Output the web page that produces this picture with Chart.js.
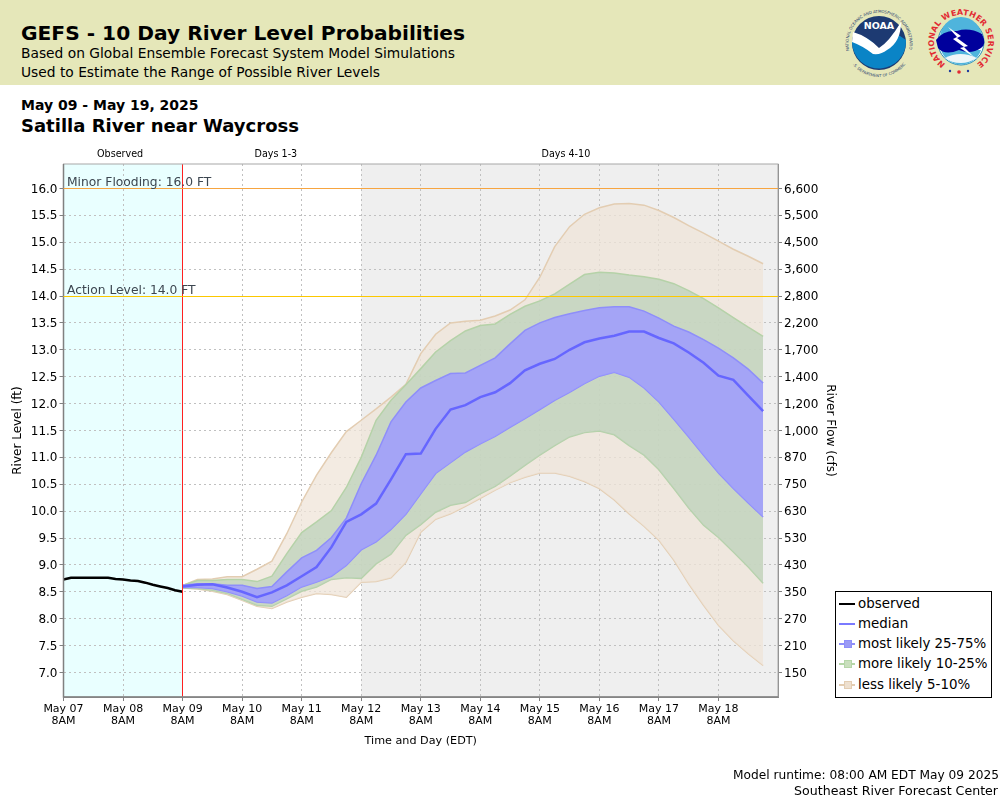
<!DOCTYPE html>
<html>
<head>
<meta charset="utf-8">
<title>GEFS River Level Probabilities</title>
<script src="https://cdn.jsdelivr.net/npm/chart.js@4/dist/chart.umd.min.js"></script>
<style>
  body { margin: 0; background: #fff; font-family: "DejaVu Sans", sans-serif; color: #000; }
  #page { position: relative; width: 1000px; height: 800px; overflow: hidden; }
  #band { position: absolute; left: 0; top: 0; width: 1000px; height: 85px; background: #e5e7b9; }
  #myChart { position: absolute; left: 0; top: 0; }
  .txt { position: absolute; white-space: nowrap; line-height: 1; }
  #logos { position: absolute; left: 835px; top: 0; }
  #legend { position: absolute; left: 835px; top: 591px; width: 155px; height: 105px; border: 1px solid #000; background: #fff; box-sizing: content-box; }
  .row { position: absolute; left: 22px; font-size: 13.4px; line-height: 1; white-space: nowrap; }
  .sym { position: absolute; left: 3px; width: 16px; height: 2px; }
  .box { position: absolute; left: 8px; width: 6px; height: 6px; border: 1px solid; }
</style>
</head>
<body>
<div id="page">
  <div id="band"></div>
  <div class="txt" style="left:21px;top:23px;font-size:20.2px;font-weight:bold">GEFS - 10 Day River Level Probabilities</div>
  <div class="txt" style="left:21px;top:47px;font-size:13.8px">Based on Global Ensemble Forecast System Model Simulations</div>
  <div class="txt" style="left:21px;top:66px;font-size:13.8px">Used to Estimate the Range of Possible River Levels</div>
  <div class="txt" style="left:21px;top:98px;font-size:14px;font-weight:bold">May 09 - May 19, 2025</div>
  <div class="txt" style="left:21px;top:117px;font-size:18px;font-weight:bold">Satilla River near Waycross</div>

  <svg id="logos" width="165" height="85" viewBox="0 0 165 85">
    <defs>
      <path id="noaaTop" d="M 14.4 50.6 A 30.5 30.5 0 1 1 73.6 50.6"/>
      <path id="noaaBot" d="M 16.8 63.4 A 34 34 0 0 0 71.2 63.4"/>
      <path id="nwsRing" d="M 110.5 64.1 A 27 27 0 1 1 141.5 64.1"/>
    </defs>
    <!-- NOAA -->
    <circle cx="44" cy="43" r="27" fill="#1d3a72"/>
    <path d="M 17 42 Q 30 30 42 48 Q 50 55 62 34 L 71 40 A 27 27 0 0 1 17 43 Z" fill="#0a84c6"/>
    <path d="M 18 32 Q 32 36 44 48 Q 54 42 66 22 Q 66 42 52 50 Q 46 55 38 54 Q 28 46 17 42 Z" fill="#fff"/>
    <text x="44" y="29" text-anchor="middle" font-size="9.5" font-weight="bold" fill="#fff" font-family="DejaVu Sans">NOAA</text>
    <text font-size="4" fill="#2a3f70" font-family="DejaVu Sans"><textPath href="#noaaTop" textLength="112">NATIONAL OCEANIC AND ATMOSPHERIC ADMINISTRATION</textPath></text>
    <text font-size="3.9" fill="#2a3f70" font-family="DejaVu Sans" text-anchor="middle"><textPath href="#noaaBot" startOffset="50%">U.S. DEPARTMENT OF COMMERCE</textPath></text>
    <!-- NWS -->
    <circle cx="126" cy="42" r="23" fill="#fff" stroke="#2a8fb8" stroke-width="1"/>
    <path d="M 105 38 A 21 21 0 0 1 147 38 Z" fill="#4fb4dc"/>
    <path d="M 106 50 A 21 21 0 0 0 146 50 Z" fill="#4fb4dc"/>
    <path d="M 101 40 Q 108 30 122 31 Q 134 27 147 34 Q 152 44 146 48 Q 136 55 124 50 Q 110 56 103 48 Z" fill="#00009c"/>
    <path d="M 110 58 Q 125 50 142 58 Q 134 63 126 63 Q 116 63 110 58 Z" fill="#eef6f8"/>
    <path d="M 113 27 L 126 36 L 122 38 L 133 46 L 129 47 L 139 57 L 125 48 L 129 47 L 118 39 L 122 37 Z" fill="#fff"/>
    <text font-size="8" font-weight="bold" fill="#e22b33" font-family="DejaVu Sans"><textPath href="#nwsRing" textLength="136">NATIONAL WEATHER SERVICE</textPath></text>
    <circle cx="115" cy="71" r="1.2" fill="#1d3a9e"/>
    <circle cx="124" cy="72" r="1.8" fill="#e22b33"/>
    <circle cx="133" cy="71" r="1.2" fill="#1d3a9e"/>
  </svg>

  <canvas id="myChart" width="1000" height="800"></canvas>

  <div id="legend"></div>

  <div class="txt" style="right:1px;top:769px;font-size:12.2px">Model runtime: 08:00 AM EDT May 09 2025</div>
  <div class="txt" style="right:2px;top:785px;font-size:12.6px">Southeast River Forecast Center</div>
</div>

<script>
// --- Data ---
// x values are hours since May 07 8AM
const dayTicks = [0, 24, 48, 72, 96, 120, 144, 168, 192, 216, 240, 264];
const dayLabels = ['May 07', 'May 08', 'May 09', 'May 10', 'May 11', 'May 12', 'May 13', 'May 14', 'May 15', 'May 16', 'May 17', 'May 18'];
const levelTicks = [7, 7.5, 8, 8.5, 9, 9.5, 10, 10.5, 11, 11.5, 12, 12.5, 13, 13.5, 14, 14.5, 15, 15.5, 16];
const flowLabels = ['150', '210', '270', '350', '430', '530', '630', '750', '870', '1,000', '1,200', '1,400', '1,700', '2,200', '2,800', '3,600', '4,500', '5,500', '6,600'];

const observedHours = [0, 3, 6, 9, 12, 15, 18, 21, 24, 27, 30, 33, 36, 39, 42, 45, 48];
const observed = [8.73, 8.76, 8.76, 8.76, 8.76, 8.76, 8.76, 8.74, 8.73, 8.71, 8.70, 8.67, 8.63, 8.60, 8.57, 8.53, 8.50];

const forecastHours = [48, 54, 60, 66, 72, 78, 84, 90, 96, 102, 108, 114, 120, 126, 132, 138, 144, 150, 156, 162,
  168, 174, 180, 186, 192, 198, 204, 210, 216, 222, 228, 234, 240, 246, 252, 258, 264, 270, 276, 282];
const median = [8.60, 8.63, 8.64, 8.58, 8.50, 8.40, 8.49, 8.62, 8.79, 8.96, 9.33, 9.80, 9.94, 10.14, 10.59, 11.06, 11.07, 11.53, 11.89, 11.97,
  12.12, 12.21, 12.38, 12.62, 12.74, 12.83, 13.00, 13.14, 13.21, 13.26, 13.34, 13.34, 13.22, 13.12, 12.95, 12.76, 12.52, 12.44, 12.15, 11.86];
const blueUpper = [8.62, 8.65, 8.65, 8.62, 8.62, 8.56, 8.60, 8.87, 9.13, 9.27, 9.51, 9.87, 10.51, 11.04, 11.66, 12.03, 12.29, 12.43, 12.56, 12.57,
  12.71, 12.85, 13.11, 13.36, 13.50, 13.60, 13.67, 13.73, 13.78, 13.80, 13.80, 13.72, 13.59, 13.44, 13.33, 13.19, 13.03, 12.85, 12.64, 12.38];
const blueLower = [8.58, 8.58, 8.56, 8.50, 8.42, 8.31, 8.29, 8.43, 8.59, 8.68, 8.79, 8.99, 9.28, 9.43, 9.66, 9.94, 10.32, 10.70, 10.90, 11.10,
  11.25, 11.39, 11.56, 11.72, 11.89, 12.06, 12.21, 12.37, 12.51, 12.58, 12.49, 12.29, 12.03, 11.71, 11.38, 11.04, 10.71, 10.42, 10.15, 9.89];
const greenUpper = [8.62, 8.71, 8.71, 8.73, 8.73, 8.69, 8.79, 9.21, 9.60, 9.80, 10.01, 10.44, 11.00, 11.69, 12.06, 12.35, 12.65, 12.96, 13.17, 13.35,
  13.45, 13.48, 13.66, 13.81, 13.91, 14.04, 14.22, 14.40, 14.44, 14.43, 14.39, 14.36, 14.31, 14.23, 14.10, 13.95, 13.78, 13.60, 13.42, 13.25];
const greenLower = [8.57, 8.56, 8.53, 8.47, 8.36, 8.25, 8.23, 8.37, 8.51, 8.59, 8.73, 8.76, 8.75, 9.02, 9.20, 9.55, 9.75, 9.98, 10.11, 10.16,
  10.32, 10.46, 10.65, 10.85, 11.04, 11.22, 11.38, 11.46, 11.49, 11.42, 11.22, 11.04, 10.77, 10.42, 10.06, 9.74, 9.51, 9.24, 8.96, 8.66];
const tanUpper = [8.62, 8.73, 8.74, 8.78, 8.78, 8.92, 9.07, 9.58, 10.17, 10.67, 11.09, 11.48, 11.69, 11.90, 12.12, 12.36, 12.93, 13.29, 13.50, 13.53,
  13.55, 13.63, 13.74, 13.93, 14.35, 14.92, 15.29, 15.52, 15.64, 15.71, 15.72, 15.69, 15.59, 15.46, 15.31, 15.17, 15.02, 14.87, 14.74, 14.60];
const tanLower = [8.57, 8.55, 8.51, 8.45, 8.34, 8.23, 8.19, 8.31, 8.40, 8.47, 8.45, 8.40, 8.68, 8.69, 8.76, 9.05, 9.61, 9.85, 9.95, 10.09,
  10.24, 10.39, 10.53, 10.63, 10.71, 10.71, 10.65, 10.55, 10.42, 10.21, 9.95, 9.72, 9.46, 9.09, 8.65, 8.25, 7.88, 7.59, 7.35, 7.13];

const thresholdLevels = [16, 14];
const thresholdLabels = ['Minor Flooding: 16.0 FT', 'Action Level: 14.0 FT'];
const thresholdColors = ['#f7a540', '#fcc800'];

const periodStart = [0, 48, 120];
const periodEnd = [48, 120, 288];
const periodColors = ['#e9ffff', '#ffffff', '#efefef'];
const periodLabels = ['Observed', 'Days 1-3', 'Days 4-10'];
const periodLabelHours = [22.8, 85.6, 202.5];

const runHour = 48;

const legendLabels = ['observed', 'median', 'most likely 25-75%', 'more likely 10-25%', 'less likely 5-10%'];
const legendLines = ['#000000', '#7a7aff', '#8e8efa', '#b5d6a8', '#e3cdb2'];
const legendBoxes = [null, null, '#9a9af5', '#c9dfbd', '#eee0cf'];

// Turn x and y arrays into points for Chart.js
function toPoints(hours, values) {
  return hours.map((h, i) => ({ x: h, y: values[i] }));
}

// Two edges of a band: the first one fills down to the second one
function bandDatasets(name, upper, lower, edgeColor, fillColor, order) {
  return [
    { label: name, data: toPoints(forecastHours, upper), borderColor: edgeColor, borderWidth: 1.5, backgroundColor: fillColor, fill: '+1', pointRadius: 0, tension: 0, order: order },
    { label: name + ' lower', data: toPoints(forecastHours, lower), borderColor: edgeColor, borderWidth: 1.5, fill: false, pointRadius: 0, tension: 0, order: order }
  ];
}

// Same rounding the grid lines get, so a line sits right on top of its grid line
function alignPixel(p) {
  return Math.round(p - 0.5) + 0.5;
}

// Period backgrounds go under the grid
const periodPlugin = {
  id: 'periods',
  beforeDraw(chart) {
    const { ctx, chartArea, scales } = chart;
    periodStart.forEach((start, i) => {
      const x1 = scales.x.getPixelForValue(start);
      const x2 = scales.x.getPixelForValue(periodEnd[i]);
      ctx.fillStyle = periodColors[i];
      ctx.fillRect(x1, chartArea.top, x2 - x1, chartArea.bottom - chartArea.top);
    });
  }
};

// Threshold lines, the run time line, frame and small labels go on top
const overlayPlugin = {
  id: 'overlay',
  afterDraw(chart) {
    const { ctx, chartArea, scales } = chart;
    ctx.save();
    ctx.setLineDash([]);

    const runX = alignPixel(scales.x.getPixelForValue(runHour));
    ctx.strokeStyle = '#ff2020';
    ctx.lineWidth = 1;
    ctx.beginPath();
    ctx.moveTo(runX, chartArea.top);
    ctx.lineTo(runX, chartArea.bottom);
    ctx.stroke();

    ctx.strokeStyle = '#a8a8a8';
    ctx.strokeRect(chartArea.left, chartArea.top, chartArea.right - chartArea.left, chartArea.bottom - chartArea.top);
    ctx.strokeStyle = '#808080';
    ctx.lineWidth = 1.5;
    ctx.beginPath();
    ctx.moveTo(chartArea.left, chartArea.top);
    ctx.lineTo(chartArea.left, chartArea.bottom);
    ctx.lineTo(chartArea.right, chartArea.bottom);
    ctx.stroke();

    thresholdLevels.forEach((level, i) => {
      const y = alignPixel(scales.y.getPixelForValue(level));
      ctx.strokeStyle = thresholdColors[i];
      ctx.lineWidth = 1;
      ctx.beginPath();
      ctx.moveTo(chartArea.left, y);
      ctx.lineTo(chartArea.right, y);
      ctx.stroke();
      ctx.fillStyle = '#3c4650';
      ctx.font = '12.3px "DejaVu Sans"';
      ctx.textAlign = 'left';
      ctx.textBaseline = 'alphabetic';
      ctx.fillText(thresholdLabels[i], chartArea.left + 3.5, y - 3);
    });

    ctx.fillStyle = '#000';
    ctx.font = '9.6px "DejaVu Sans"';
    ctx.textAlign = 'center';
    periodLabels.forEach((label, i) => {
      ctx.fillText(label, scales.x.getPixelForValue(periodLabelHours[i]), 157);
    });
    ctx.restore();
  }
};

function setupChart() {
  const ctx = document.getElementById('myChart').getContext('2d');
  const tickFont = { family: 'DejaVu Sans', size: 12 };
  const axisColor = '#808080';
  const gridColor = '#c0c0c0';

  new Chart(ctx, {
    type: 'line',
    data: {
      datasets: [
        { label: 'observed', data: toPoints(observedHours, observed), borderColor: '#000000', borderWidth: 2.5, fill: false, pointRadius: 0, tension: 0, order: 0 },
        { label: 'median', data: toPoints(forecastHours, median), borderColor: '#6666ff', borderWidth: 2.5, fill: false, pointRadius: 0, tension: 0, order: 1 },
        ...bandDatasets('most likely 25-75%', blueUpper, blueLower, '#8e8efa', 'rgba(158,155,255,0.85)', 2),
        ...bandDatasets('more likely 10-25%', greenUpper, greenLower, '#b5d2a8', 'rgba(188,210,185,0.75)', 3),
        ...bandDatasets('less likely 5-10%', tanUpper, tanLower, '#e3cdb2', 'rgba(239,228,216,0.75)', 4)
      ]
    },
    options: {
      responsive: false,
      animation: false,
      devicePixelRatio: 1,
      layout: { padding: { left: 0, right: 163, top: 164, bottom: 52 } },
      plugins: { legend: { display: false }, tooltip: { enabled: false } },
      scales: {
        x: {
          type: 'linear',
          min: 0,
          max: 288,
          afterBuildTicks: axis => { axis.ticks = dayTicks.map(v => ({ value: v })); },
          afterFit: axis => { axis.height = 51; },
          grid: { color: gridColor, tickColor: axisColor, tickLength: 4, tickBorderDash: [] },
          border: { color: axisColor, dash: [2, 3] },
          ticks: {
            autoSkip: false,
            maxRotation: 0,
            color: '#000',
            font: { family: 'DejaVu Sans', size: 11, lineHeight: 1.1 },
            padding: 2,
            callback: value => [dayLabels[dayTicks.indexOf(value)], '8AM']
          },
          title: { display: true, text: 'Time and Day (EDT)', color: '#000', font: { family: 'DejaVu Sans', size: 11.2 }, padding: { top: 0, bottom: 0 } }
        },
        y: {
          min: 6.544,
          max: 16.455,
          afterBuildTicks: axis => { axis.ticks = levelTicks.map(v => ({ value: v })); },
          afterFit: axis => { axis.width = 63.5; },
          grid: { color: gridColor, tickColor: axisColor, tickLength: 4, tickBorderDash: [] },
          border: { color: axisColor, dash: [2, 3] },
          ticks: { color: '#000', font: tickFont, padding: 2, labelOffset: 1, callback: value => value.toFixed(1) },
          title: { display: true, text: 'River Level (ft)', color: '#000', font: { family: 'DejaVu Sans', size: 12 }, padding: { top: 11, bottom: 0 } }
        },
        y2: {
          position: 'right',
          min: 6.544,
          max: 16.455,
          afterBuildTicks: axis => { axis.ticks = levelTicks.map(v => ({ value: v })); },
          afterFit: axis => { axis.width = 59; },
          grid: { drawOnChartArea: false, tickColor: axisColor, tickLength: 4, tickBorderDash: [] },
          border: { color: axisColor },
          ticks: { color: '#000', font: tickFont, padding: 2, labelOffset: 1, callback: value => flowLabels[levelTicks.indexOf(value)] },
          title: { display: true, text: 'River Flow (cfs)', color: '#000', font: { family: 'DejaVu Sans', size: 12 }, padding: { top: 0, bottom: 0 } }
        }
      }
    },
    plugins: [periodPlugin, overlayPlugin]
  });
}

// Legend is plain HTML so it can sit outside of the plot
function setupLegend() {
  const legend = document.getElementById('legend');
  legendLabels.forEach((label, i) => {
    const rowY = 11.5 + i * 20.3;
    const line = document.createElement('div');
    line.className = 'sym';
    line.style.top = (rowY - 1) + 'px';
    line.style.background = legendLines[i];
    legend.appendChild(line);
    if (legendBoxes[i]) {
      const box = document.createElement('div');
      box.className = 'box';
      box.style.top = (rowY - 4) + 'px';
      box.style.background = legendBoxes[i];
      box.style.borderColor = legendLines[i];
      legend.appendChild(box);
    }
    const text = document.createElement('div');
    text.className = 'row';
    text.style.top = (rowY - 7) + 'px';
    text.textContent = label;
    legend.appendChild(text);
  });
}

window.addEventListener('load', () => {
  setupChart();
  setupLegend();
});
</script>
</body>
</html>
